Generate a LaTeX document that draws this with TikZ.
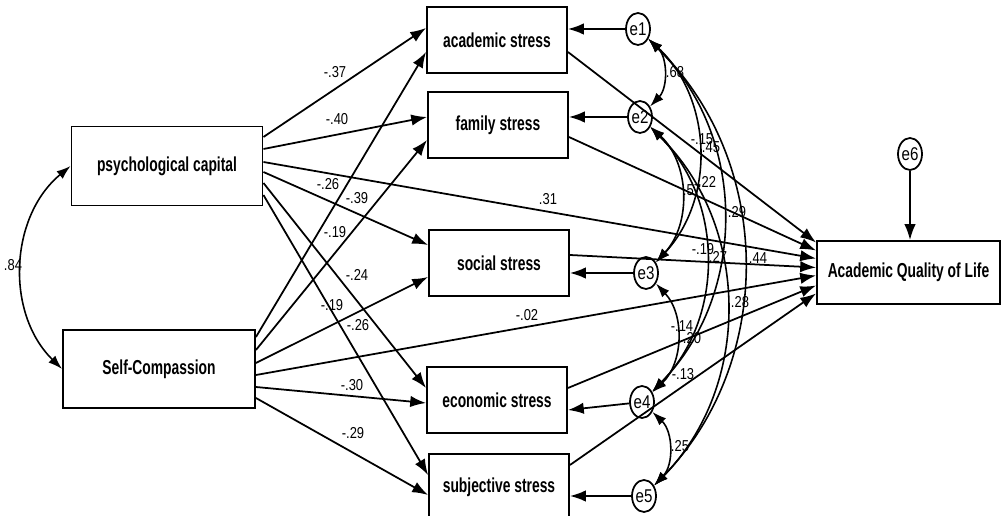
\documentclass[tikz,border=0pt]{standalone}
\usepackage{fontspec}
\setmainfont{Liberation Sans}
\newfontfamily\boxfont[FakeStretch=0.685]{Liberation Sans}
\newfontfamily\numfont[FakeStretch=0.82]{Liberation Sans}
\usetikzlibrary{shapes}
\usetikzlibrary{arrows.meta}
\usetikzlibrary{calc}

\begin{document}
\begin{tikzpicture}[x=0.02cm,y=-0.02cm,
  var/.style={draw,line width=1.1pt,inner sep=0pt,font=\boxfont\bfseries\fontsize{11.5}{13}\selectfont},
  err/.style={draw,ellipse,line width=1pt,inner sep=0pt,minimum width=0.48cm,minimum height=0.64cm,font=\numfont\fontsize{10.5}{12}\selectfont},
  lbl/.style={inner sep=0pt,font=\numfont\fontsize{9}{10}\selectfont},
  reg/.style={line width=1pt,-{Latex[length=9pt,width=6.5pt]}},
  cov/.style={line width=0.9pt,{Latex[length=8pt,width=5.5pt]}-{Latex[length=8pt,width=5.5pt]}}]
\useasboundingbox (0,0) rectangle (1001,516);
% exogenous
\node[var,minimum width=3.82cm,minimum height=1.58cm] (pc) at (167,166) {psychological capital};
\node[var,minimum width=3.84cm,minimum height=1.56cm] (sc) at (159,369) {Self-Compassion};
% mediators
\node[var,minimum width=2.8cm,minimum height=1.32cm] (acad) at (497,40) {academic stress};
\node[var,minimum width=2.8cm,minimum height=1.32cm] (fam) at (498,125) {family stress};
\node[var,minimum width=2.8cm,minimum height=1.32cm] (soc) at (499,263) {social stress};
\node[var,minimum width=2.8cm,minimum height=1.32cm] (econ) at (497,400) {economic stress};
\node[var,minimum width=2.8cm,minimum height=1.32cm] (subj) at (499,487) {subjective stress};
% outcome
\node[var,minimum width=3.66cm,minimum height=1.26cm] (aqol) at (908.5,272.5) {Academic Quality of Life};
% residuals
\node[err] (e1) at (638,29) {e1};
\node[err] (e2) at (640,117) {e2};
\node[err] (e3) at (646,273) {e3};
\node[err] (e4) at (642,402) {e4};
\node[err] (e5) at (644,496) {e5};
\node[err] (e6) at (910,154) {e6};

% paths from psychological capital
\draw[reg] ($(pc.east)+(0,-29)$) -- ($(acad.west)+(0,-12)$);
\draw[reg] ($(pc.east)+(0,-17)$) -- ($(fam.west)+(0,-8)$);
\draw[reg] ($(pc.east)+(0,-4)$) -- ($(aqol.west)+(0,-14)$);
\draw[reg] ($(pc.east)+(0,6)$) -- ($(soc.west)+(0,-18)$);
\draw[reg] ($(pc.east)+(0,17)$) -- ($(econ.west)+(0,-12)$);
\draw[reg] ($(pc.east)+(0,29)$) -- ($(subj.west)+(0,-12)$);
% paths from self-compassion
\draw[reg] ($(sc.east)+(0,-32)$) -- ($(acad.west)+(0,12)$);
\draw[reg] ($(sc.east)+(0,-19)$) -- ($(fam.west)+(0,15)$);
\draw[reg] ($(sc.east)+(0,-6)$) -- ($(soc.west)+(0,14)$);
\draw[reg] ($(sc.east)+(0,6)$) -- ($(aqol.west)+(0,3)$);
\draw[reg] ($(sc.east)+(0,18)$) -- ($(econ.west)+(0,3)$);
\draw[reg] ($(sc.east)+(0,29)$) -- ($(subj.west)+(0,8)$);
% paths to outcome
\draw[reg] ($(acad.east)+(0,12)$) -- ($(aqol.west)+(0,-30)$);
\draw[reg] ($(fam.east)+(0,12)$) -- ($(aqol.west)+(0,-22)$);
\draw[reg] ($(soc.east)+(0,-8)$) -- ($(aqol.west)+(0,-5)$);
\draw[reg] ($(econ.east)+(0,-12)$) -- ($(aqol.west)+(0,13)$);
\draw[reg] ($(subj.east)+(0,-22)$) -- ($(aqol.west)+(0,21)$);
% residual paths
\draw[reg] (e1) -- (e1 -| acad.east);
\draw[reg] (e2) -- (e2 -| fam.east);
\draw[reg] (e3) -- (e3 -| soc.east);
\draw[reg] (e4) -- ($(econ.east)+(0,10)$);
\draw[reg] (e5) -- (e5 -| subj.east);
\draw[reg] (e6) -- (e6 |- aqol.north);

% covariances
\draw[cov] (pc.west) to[bend right=48] (sc.west);
\draw[cov] (e1) to[bend left=45] (e2);
\draw[cov] (e1) to[bend left=45] (e3);
\draw[cov] (e1) to[bend left=45] (e4);
\draw[cov] (e1) to[bend left=45] (e5);
\draw[cov] (e2) to[bend left=45] (e3);
\draw[cov] (e2) to[bend left=45] (e4);
\draw[cov] (e2) to[bend left=45] (e5);
\draw[cov] (e3) to[bend left=45] (e4);
\draw[cov] (e4) to[bend left=45] (e5);

% estimates
\node[lbl] (l1) at (335,72) {-.37};
\node[lbl] (l2) at (337,119) {-.40};
\node[lbl] (l3) at (548,199) {.31};
\node[lbl] (l4) at (328,184) {-.26};
\node[lbl] (l5) at (357,198) {-.39};
\node[lbl] (l6) at (335,232) {-.19};
\node[lbl] (l7) at (357,275) {-.24};
\node[lbl] (l8) at (332,305) {-.19};
\node[lbl] (l9) at (358,325) {-.26};
\node[lbl] (l10) at (527,315) {-.02};
\node[lbl] (l11) at (352,385) {-.30};
\node[lbl] (l12) at (353,433) {-.29};
\node[lbl] (l13) at (702,139) {-.15};
\node[lbl] (l14) at (707,182) {.22};
\node[lbl] (l15) at (703,249) {-.19};
\node[lbl] (l16) at (682,326) {-.14};
\node[lbl] (l17) at (683,374) {-.13};
\node[lbl] (l18) at (675,72) {.68};
\node[lbl] (l19) at (711,147) {.45};
\node[lbl] (l20) at (692,190) {.57};
\node[lbl] (l21) at (737,212) {.29};
\node[lbl] (l22) at (718,257) {.27};
\node[lbl] (l23) at (758,258) {.44};
\node[lbl] (l24) at (740,302) {.28};
\node[lbl] (l25) at (692,338) {.20};
\node[lbl] (l26) at (680,446) {.25};
\node[lbl] (l27) at (13,265) {.84};
\end{tikzpicture}
\end{document}
